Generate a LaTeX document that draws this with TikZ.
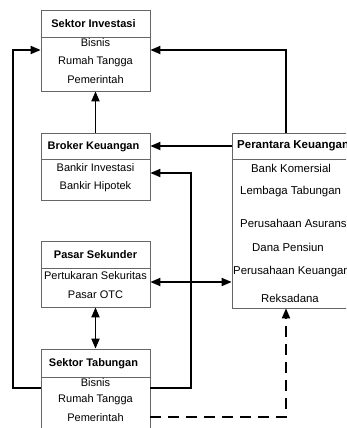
\documentclass[tikz,border=0pt]{standalone}
\usepackage{fontspec}
\setmainfont{Liberation Sans}
\usetikzlibrary{arrows.meta}
\begin{document}
\begin{tikzpicture}[x=1pt,y=-1pt,
  box/.style={draw=black!60, line width=0.7pt, fill=white, inner sep=0pt},
  hline/.style={draw=black!60, line width=0.7pt},
  hd/.style={font=\bfseries\fontsize{11}{13}\selectfont, inner sep=0pt},
  it/.style={font=\fontsize{11}{13}\selectfont, inner sep=0pt},
  rhd/.style={font=\bfseries\fontsize{11.5}{13}\selectfont, inner sep=0pt},
  rit/.style={font=\fontsize{11.4}{13}\selectfont, inner sep=0pt},
  conn/.style={line width=1.8pt, -{Triangle[length=10pt,width=8pt]}},
  dconn/.style={line width=1.8pt, {Triangle[length=10pt,width=8pt]}-{Triangle[length=10pt,width=8pt]}},
  dashconn/.style={conn, dash pattern=on 11pt off 7pt}]
\useasboundingbox (0,0) rectangle (346,428);
\clip (0,0) rectangle (346,428);
% boxes
\node[box, minimum width=109pt, minimum height=81pt] (inv) at (95.5,50.5) {};
\node[box, minimum width=109pt, minimum height=67pt] (brk) at (95.5,166.5) {};
\node[box, minimum width=109pt, minimum height=66pt] (pas) at (95.5,274) {};
\node[box, minimum width=109pt, minimum height=91pt] (tab) at (95.5,394.5) {};
\node[box, minimum width=118pt, minimum height=175pt] (per) at (291,220.5) {};
% header lines
\draw[hline] (inv.west |- 0,37) -- (inv.east |- 0,37);
\draw[hline] (brk.west |- 0,159) -- (brk.east |- 0,159);
\draw[hline] (pas.west |- 0,268) -- (pas.east |- 0,268);
\draw[hline] (tab.west |- 0,377) -- (tab.east |- 0,377);
\draw[hline] (per.west |- 0,159) -- (per.east |- 0,159);
% texts
\node[hd] (invh) at (93.5,23.5) {Sektor Investasi};
\node[it] (inv1) at (95.5,43) {Bisnis};
\node[it] (inv2) at (95.5,62) {Rumah Tangga};
\node[it] (inv3) at (95.5,80) {Pemerintah};
\node[hd] (brkh) at (93.5,146.5) {Broker Keuangan};
\node[it] (brk1) at (95.5,168) {Bankir Investasi};
\node[it] (brk2) at (95.5,187) {Bankir Hipotek};
\node[hd] (pash) at (95.5,255) {Pasar Sekunder};
\node[it] (pas1) at (95.5,276) {Pertukaran Sekuritas};
\node[it] (pas2) at (95.5,295) {Pasar OTC};
\node[hd] (tabh) at (93.5,364) {Sektor Tabungan};
\node[it] (tab1) at (95.5,383) {Bisnis};
\node[it] (tab2) at (95.5,400) {Rumah Tangga};
\node[it] (tab3) at (95.5,418) {Pemerintah};
\node[rhd, anchor=west] (perh) at (237,146) {Perantara Keuangan};
\node[rit] (per1) at (291,168) {Bank Komersial};
\node[rit, anchor=west] (per2) at (240,192) {Lembaga Tabungan};
\node[rit, anchor=west] (per3) at (240,223) {Perusahaan Asuransi};
\node[rit] (per4) at (288,247) {Dana Pensiun};
\node[rit, anchor=west] (per5) at (233,272) {Perusahaan Keuangan};
\node[rit] (per6) at (290,298) {Reksadana};
% connectors
\draw[conn] (tab.west |- 0,388) -- (13,388) -- (13,50) -- (inv.west |- 0,50);
\draw[conn] (per.north -| 286,0) -- (286,50) -- (inv.east |- 0,50);
\draw[conn] (brk.north) -- (inv.south);
\draw[conn] (per.west |- 0,146) -- (brk.east |- 0,146);
\draw[conn] (tab.east |- 0,388) -- (191,388) -- (191,173) -- (brk.east |- 0,173);
\draw[dconn] (pas.east |- 0,282) -- (per.west |- 0,282);
\draw[dconn] (pas.south) -- (tab.north);
\draw[dashconn] (tab.east |- 0,417) -- (286,417) -- (per.south -| 286,0);
\end{tikzpicture}
\end{document}
